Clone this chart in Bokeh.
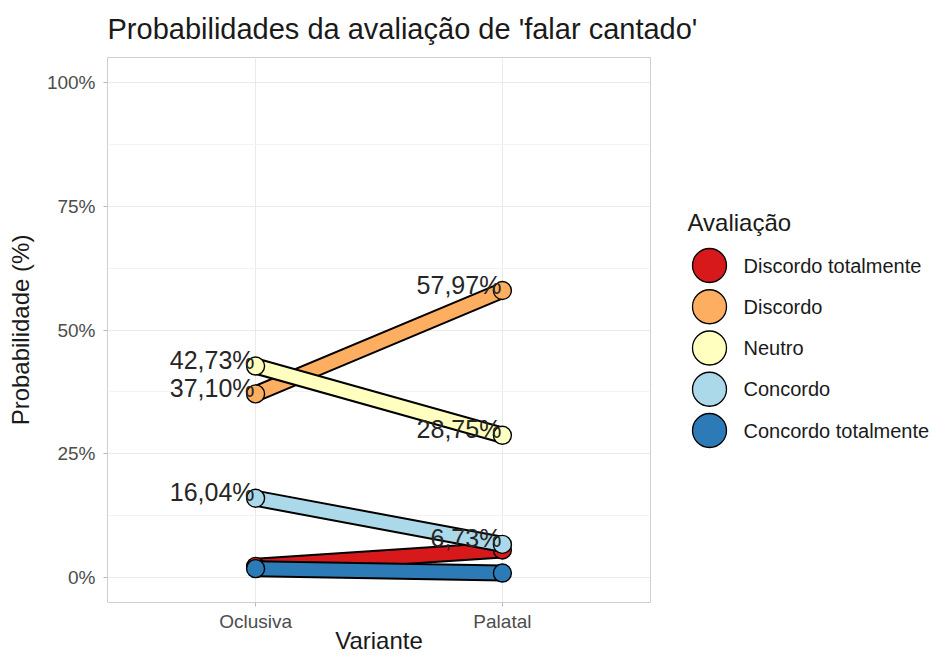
from bokeh.plotting import figure
from bokeh.models import FactorRange, Range1d, FixedTicker, ColumnDataSource
from bokeh.layouts import column, row
from bokeh.embed import file_html
from bokeh.resources import INLINE
from bokeh.core.properties import value

# ---- data ----
variants = ["Oclusiva", "Palatal"]
categories = ["Discordo totalmente", "Discordo", "Neutro", "Concordo", "Concordo totalmente"]
colors = ["#D7191C", "#FDAE61", "#FFFFBF", "#ABD9E9", "#2C7BB6"]
prob_oclusiva = [2.3, 37.10, 42.73, 16.04, 1.83]
prob_palatal = [5.6, 57.97, 28.75, 6.73, 0.95]
labels_oclusiva = ["", "37,10%", "42,73%", "16,04%", ""]
labels_palatal = ["", "57,97%", "28,75%", "6,73%", ""]
y_ticks = [0, 25, 50, 75, 100]
y_tick_labels = ["0%", "25%", "50%", "75%", "100%"]
y_minor = [12.5, 37.5, 62.5, 87.5]
title_text = "Probabilidades da avaliação de 'falar cantado'"
legend_title = "Avaliação"

FONT = "Liberation Sans"
TOP = 57          # height of the title strip
MAIN_W = 655
LEG_W = 933 - MAIN_W
BODY_H = 656 - TOP
BOTTOM = 54

# ---- title strip ----
tfig = figure(width=933, height=TOP, output_backend="svg", toolbar_location=None,
              x_axis_type=None, y_axis_type=None, title=title_text,
              min_border_left=107, min_border_right=0, min_border_top=49, min_border_bottom=0)
tfig.outline_line_color = None
tfig.border_fill_color = "white"
tfig.background_fill_color = "white"
tfig.title.text_font = FONT
tfig.title.text_font_size = "29px"
tfig.title.text_font_style = "normal"
tfig.title.text_color = "#1A1A1A"
tfig.title.align = "left"
tfig.title.offset = 0
tfig.title.standoff = 10

# ---- main plot ----
p = figure(width=MAIN_W, height=BODY_H, output_backend="svg", toolbar_location=None,
           x_range=FactorRange(factors=variants, range_padding=0.1, range_padding_units="absolute"),
           y_range=Range1d(-5, 105),
           min_border_left=107, min_border_right=5, min_border_top=0, min_border_bottom=BOTTOM)
p.background_fill_color = "white"
p.border_fill_color = "white"
p.outline_line_color = "#CFCFCF"
p.outline_line_width = 1

p.yaxis.ticker = FixedTicker(ticks=y_ticks, minor_ticks=y_minor)
p.yaxis.major_label_overrides = {t: l for t, l in zip(y_ticks, y_tick_labels)}
p.yaxis.axis_label = "Probabilidade (%)"
p.yaxis.axis_label_standoff = 10
p.xaxis.axis_label = "Variante"
p.xaxis.axis_label_standoff = -8

for ax in (p.xaxis, p.yaxis):
    ax.axis_line_color = None
    ax.major_tick_line_color = "#B8B8B8"
    ax.major_tick_out = 4
    ax.major_tick_in = 0
    ax.minor_tick_line_color = None
    ax.major_label_text_font = FONT
    ax.major_label_text_font_size = "19px"
    ax.major_label_text_color = "#4D4D4D"
    ax.axis_label_text_font = FONT
    ax.axis_label_text_font_size = "24px"
    ax.axis_label_text_font_style = "normal"
    ax.axis_label_text_color = "#1A1A1A"
p.xaxis.major_label_standoff = 4
p.yaxis.major_label_standoff = 8

p.xgrid.grid_line_color = "#EBEBEB"
p.ygrid.grid_line_color = "#EBEBEB"
p.ygrid.minor_grid_line_color = "#F3F3F3"

for i, cat in enumerate(categories):
    src = ColumnDataSource(dict(x=variants, y=[prob_oclusiva[i], prob_palatal[i]]))
    p.line("x", "y", source=src, line_color="black", line_width=17, line_cap="round")
    p.line("x", "y", source=src, line_color=colors[i], line_width=13, line_cap="round")
    p.scatter("x", "y", source=src, size=18, fill_color=colors[i], line_color="black", line_width=1.4)

lx, ly, lt = [], [], []
for i in range(len(categories)):
    if labels_oclusiva[i]:
        lx.append(variants[0]); ly.append(prob_oclusiva[i]); lt.append(labels_oclusiva[i])
    if labels_palatal[i]:
        lx.append(variants[1]); ly.append(prob_palatal[i]); lt.append(labels_palatal[i])
lab_src = ColumnDataSource(dict(x=lx, y=ly, t=lt))
p.text("x", "y", text="t", source=lab_src, text_align="right", text_baseline="middle",
       x_offset=-1, y_offset=-6, text_font_size="25px", text_color="#262626", text_font=value(FONT))

# ---- legend panel (its frame is aligned with the main frame) ----
FRAME_H = BODY_H - BOTTOM
ROW = 41.25
FIRST = 265 - TOP          # first legend row, measured from the frame top
leg = figure(width=LEG_W, height=BODY_H, output_backend="svg", toolbar_location=None,
             x_range=Range1d(0, LEG_W),
             y_range=Range1d((FRAME_H - FIRST) / ROW, -FIRST / ROW),
             x_axis_type=None, y_axis_type=None,
             min_border_left=0, min_border_right=0, min_border_top=0, min_border_bottom=BOTTOM)
leg.outline_line_color = None
leg.background_fill_color = "white"
leg.border_fill_color = "white"
leg_src = ColumnDataSource(dict(y=list(range(len(categories))), c=colors, t=categories))
leg.scatter(x=54, y="y", source=leg_src, size=34, fill_color="c", line_color="black", line_width=1.3)
leg.text(x=88, y="y", text="t", source=leg_src, text_align="left", text_baseline="middle",
         text_font_size="20px", text_color="#1A1A1A", text_font=value(FONT))
leg.text(x=[32], y=[-1.04], text=[legend_title], text_align="left", text_baseline="middle",
         text_font_size="24px", text_color="#1A1A1A", text_font=value(FONT))

layout = column(tfig, row(p, leg, spacing=0), spacing=0)
open("out.html", "w").write(file_html(layout, INLINE))
